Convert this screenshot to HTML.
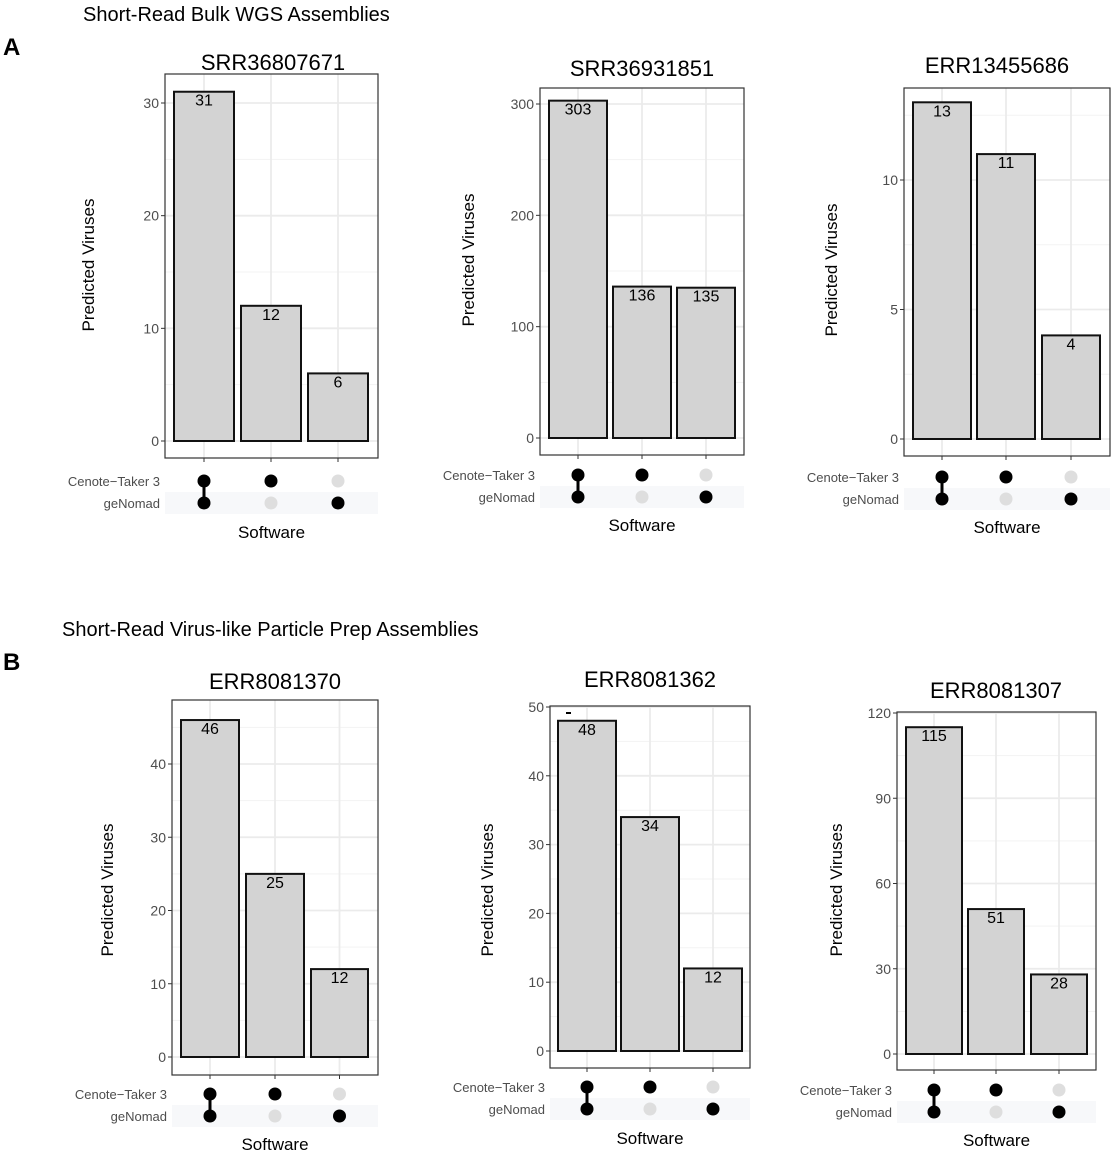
<!DOCTYPE html>
<html><head><meta charset="utf-8"><style>
body{margin:0;background:#fff}
svg{display:block;font-family:"Liberation Sans",Arial,sans-serif}
</style></head><body>
<svg id="s" width="1120" height="1164" xmlns="http://www.w3.org/2000/svg">
<rect width="1120" height="1164" fill="#fff"/>
<text x="83" y="21" font-size="20">Short-Read Bulk WGS Assemblies</text>
<text x="3" y="55" font-size="24" font-weight="bold">A</text>
<text x="62" y="636" font-size="20">Short-Read Virus-like Particle Prep Assemblies</text>
<text x="3" y="670" font-size="24" font-weight="bold">B</text>
</svg>
<script>
var P=[
{t:"SRR36807671",tx:273,ty:70,x0:165,x1:378,y0:74,y1:458,z:441,tk:[0,10,20,30],sc:(441-103)/30,v:[31,12,6],bx:[[174,234],[241,301],[308,368]],dy:[481,503],sw:538,yt:[88,265]},
{t:"SRR36931851",tx:642,ty:76,x0:540,x1:744,y0:88,y1:455,z:438,tk:[0,100,200,300],sc:(438-104)/300,v:[303,136,135],bx:[[549,607],[613,671],[677,735]],dy:[475,497],sw:531,yt:[468,260]},
{t:"ERR13455686",tx:997,ty:73,x0:904,x1:1110,y0:88,y1:456,z:439,tk:[0,5,10],sc:(439-180)/10,v:[13,11,4],bx:[[913,971],[977,1035],[1042,1100]],dy:[477,499],sw:533,yt:[831,270]},
{t:"ERR8081370",tx:275,ty:689,x0:172,x1:378,y0:700,y1:1075,z:1057,tk:[0,10,20,30,40],sc:(1057-764)/40,v:[46,25,12],bx:[[181,239],[246,304],[311,368]],dy:[1094,1116],sw:1150,yt:[107,890]},
{t:"ERR8081362",tx:650,ty:687,x0:550,x1:750,y0:706,y1:1068,z:1051,tk:[0,10,20,30,40,50],sc:(1051-707)/50,v:[48,34,12],bx:[[558,616],[621,679],[684,742]],dy:[1087,1109],sw:1144,yt:[487,890]},
{t:"ERR8081307",tx:996,ty:698,x0:897,x1:1096,y0:712,y1:1070,z:1054,tk:[0,30,60,90,120],sc:(1054-713)/120,v:[115,51,28],bx:[[906,962],[968,1024],[1031,1087]],dy:[1090,1112],sw:1146,yt:[836,890]}
];
var pat=[[1,1],[1,0],[0,1]];
var h="";
P.forEach(function(p){
 h+='<text x="'+p.tx+'" y="'+p.ty+'" font-size="22" text-anchor="middle">'+p.t+'</text>';
 h+='<rect x="'+p.x0+'" y="'+p.y0+'" width="'+(p.x1-p.x0)+'" height="'+(p.y1-p.y0)+'" fill="#fff"/>';
 var st=p.tk[1]-p.tk[0];
 for(var i=0;i<p.tk.length;i++){var y=p.z-p.tk[i]*p.sc;
  h+='<line x1="'+p.x0+'" x2="'+p.x1+'" y1="'+y+'" y2="'+y+'" stroke="#ebebeb" stroke-width="1.8"/>';
  var ym=p.z-(p.tk[i]+st/2)*p.sc; if(ym>p.y0) h+='<line x1="'+p.x0+'" x2="'+p.x1+'" y1="'+ym+'" y2="'+ym+'" stroke="#f3f3f3" stroke-width="1"/>';
  h+='<line x1="'+(p.x0-4)+'" x2="'+p.x0+'" y1="'+y+'" y2="'+y+'" stroke="#333"/>';
  h+='<text x="'+(p.x0-6)+'" y="'+(y+5)+'" font-size="14" fill="#4d4d4d" text-anchor="end">'+p.tk[i]+'</text>';
 }
 p.bx.forEach(function(b,j){var c=(b[0]+b[1])/2;
  h+='<line x1="'+c+'" x2="'+c+'" y1="'+p.y0+'" y2="'+p.y1+'" stroke="#ebebeb" stroke-width="1.8"/>';
  h+='<line x1="'+c+'" x2="'+c+'" y1="'+p.y1+'" y2="'+(p.y1+4)+'" stroke="#333"/>';
 });
 p.bx.forEach(function(b,j){var c=(b[0]+b[1])/2,top=p.z-p.v[j]*p.sc;
  h+='<rect x="'+b[0]+'" y="'+top+'" width="'+(b[1]-b[0])+'" height="'+(p.z-top)+'" fill="#d3d3d3" stroke="#111" stroke-width="2"/>';
  h+='<text x="'+c+'" y="'+(top+14)+'" font-size="16" text-anchor="middle">'+p.v[j]+'</text>';
 });
 h+='<rect x="'+p.x0+'" y="'+p.y0+'" width="'+(p.x1-p.x0)+'" height="'+(p.y1-p.y0)+'" fill="none" stroke="#333" stroke-width="1.2"/>';
 h+='<text transform="translate('+(p.yt[0]+6)+','+p.yt[1]+') rotate(-90)" font-size="17" text-anchor="middle">Predicted Viruses</text>';
 h+='<rect x="'+p.x0+'" y="'+(p.dy[1]-11)+'" width="'+(p.x1-p.x0)+'" height="22" fill="#f7f8fa"/>';
 h+='<text x="'+(p.x0-5)+'" y="'+(p.dy[0]+5)+'" font-size="13" fill="#4d4d4d" text-anchor="end">Cenote\u2212Taker 3</text>';
 h+='<text x="'+(p.x0-5)+'" y="'+(p.dy[1]+5)+'" font-size="13" fill="#4d4d4d" text-anchor="end">geNomad</text>';
 p.bx.forEach(function(b,j){var c=(b[0]+b[1])/2;
  if(j==0) h+='<line x1="'+c+'" x2="'+c+'" y1="'+p.dy[0]+'" y2="'+p.dy[1]+'" stroke="#000" stroke-width="3"/>';
  for(var k=0;k<2;k++) h+='<circle cx="'+c+'" cy="'+p.dy[k]+'" r="6.5" fill="'+(pat[j][k]?'#000':'#dedede')+'"/>';
 });
 h+='<text x="'+((p.x0+p.x1)/2)+'" y="'+p.sw+'" font-size="17" text-anchor="middle">Software</text>';
});
h+='<rect x="566" y="712" width="5" height="2" fill="#000"/>';
document.getElementById("s").insertAdjacentHTML("beforeend",h);
</script>
</body></html>
